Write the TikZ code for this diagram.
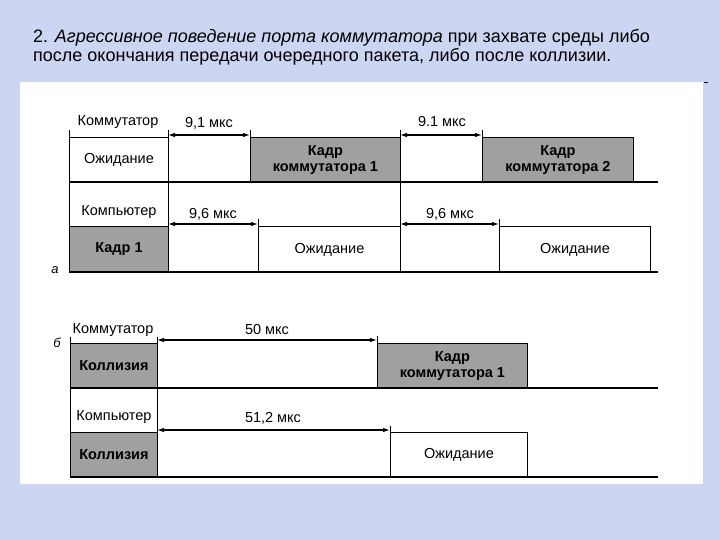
\documentclass[tikz,border=0pt]{standalone}
\usepackage{fontspec}
\setmainfont{Liberation Sans}
\usetikzlibrary{arrows.meta}
\definecolor{bgblue}{RGB}{204,214,242}
\definecolor{hatch}{RGB}{160,160,160}
\begin{document}
\begin{tikzpicture}[x=1pt,y=-1pt,
  ttl/.style={anchor=base west, inner sep=0pt, font=\fontsize{18}{21}\selectfont},
  lbl/.style={inner sep=0pt, font=\fontsize{14.5}{16}\selectfont},
  tbox/.style={draw=black, line width=0.9pt, anchor=north west, inner sep=0pt, align=center,
    font=\fontsize{14.5}{15.5}\selectfont},
  gbox/.style={tbox, fill=hatch, font=\fontsize{14.5}{15.5}\selectfont\bfseries},
  wbox/.style={tbox, fill=white},
  base/.style={line width=1.8pt},
  vline/.style={line width=0.9pt},
  dim/.style={line width=1.2pt, {Latex[length=7pt,width=4.5pt]}-{Latex[length=7pt,width=4.5pt]}},
  tag/.style={inner sep=0pt, font=\fontsize{13}{14}\selectfont\itshape}
]
\useasboundingbox (0,0) rectangle (720,540);
\fill[bgblue] (0,0) rectangle (720,540);
\fill[white] (20,82) rectangle (703,484);
\draw[line width=1pt] (704,83) -- (708,83);

% title
\node[ttl] (t1) at (33,43) {2. \textit{Агрессивное поведение порта коммутатора} при захвате среды либо};
\node[ttl] (t2) at (33,62) {после окончания передачи очередного пакета, либо после коллизии.};

% ---------- part a ----------
\node[wbox, minimum width=99pt, minimum height=45pt] (wA1) at (69,137) {Ожидание};
\node[gbox, minimum width=150pt, minimum height=45pt] (kA1) at (250,137) {Кадр\\коммутатора 1};
\node[gbox, minimum width=151pt, minimum height=45pt] (kA2) at (482,137) {Кадр\\коммутатора 2};
\node[gbox, minimum width=99pt, minimum height=46pt] (cA1) at (69,226) {Кадр 1};
\node[wbox, minimum width=142pt, minimum height=46pt] (wA2) at (258,226) {Ожидание};
\node[wbox, minimum width=151pt, minimum height=46pt] (wA3) at (499,226) {Ожидание};

\node[lbl] (swA) at (118,122) {Коммутатор};
\node[lbl] (pcA) at (119,212) {Компьютер};
\node[tag] (ta) at (55,270) {а};

\coordinate (aL1) at (69,130); \coordinate (aL2) at (69,272);
\coordinate (aM1) at (168,130); \coordinate (aM2) at (168,272);
\coordinate (aR1) at (400,130); \coordinate (aR2) at (400,272);
\coordinate (aB1) at (69,182); \coordinate (aB1e) at (658,182);
\coordinate (aB2) at (69,272); \coordinate (aB2e) at (658,272);
\draw[vline] (aL1) -- (aL2);
\draw[vline] (aM1) -- (aM2);
\draw[vline] (aR1) -- (aR2);
\draw[vline] (250,130) -- (kA1.north west);
\draw[vline] (482,130) -- (kA2.north west);
\draw[vline] (258,219) -- (wA2.north west);
\draw[vline] (499,219) -- (wA3.north west);
\draw[base] (aB1) -- (aB1e);
\draw[base] (aB2) -- (aB2e);

\coordinate (d1a) at (168,135); \coordinate (d1b) at (250,135);
\coordinate (d2a) at (400,135); \coordinate (d2b) at (482,135);
\coordinate (d3a) at (168,224); \coordinate (d3b) at (258,224);
\coordinate (d4a) at (400,224); \coordinate (d4b) at (499,224);
\draw[dim] (d1a) -- (d1b);
\draw[dim] (d2a) -- (d2b);
\draw[dim] (d3a) -- (d3b);
\draw[dim] (d4a) -- (d4b);
\node[lbl] (l1) at (209,123) {9,1 мкс};
\node[lbl] (l2) at (442,122) {9.1 мкс};
\node[lbl] (l3) at (213,214) {9,6 мкс};
\node[lbl] (l4) at (450,214) {9,6 мкс};

% ---------- part b ----------
\node[gbox, minimum width=87pt, minimum height=45pt] (kB0) at (70,343) {Коллизия};
\node[gbox, minimum width=150pt, minimum height=45pt] (kB1) at (377,343) {Кадр\\коммутатора 1};
\node[gbox, minimum width=87pt, minimum height=45pt] (cB0) at (70,432) {Коллизия};
\node[wbox, minimum width=137pt, minimum height=45pt] (wB1) at (390,432) {Ожидание};

\node[lbl] (swB) at (113,330) {Коммутатор};
\node[lbl] (pcB) at (114,417) {Компьютер};
\node[tag] (tb) at (57,343) {б};

\coordinate (bL1) at (70,337); \coordinate (bL2) at (70,477);
\coordinate (bM1) at (157,337); \coordinate (bM2) at (157,477);
\draw[vline] (bL1) -- (bL2);
\draw[vline] (bM1) -- (bM2);
\draw[vline] (377,336) -- (kB1.north west);
\draw[vline] (390,426) -- (wB1.north west);
\coordinate (bB1) at (70,388); \coordinate (bB1e) at (658,388);
\coordinate (bB2) at (70,477); \coordinate (bB2e) at (658,477);
\draw[base] (bB1) -- (bB1e);
\draw[base] (bB2) -- (bB2e);

\coordinate (d5a) at (157,340); \coordinate (d5b) at (377,340);
\coordinate (d6a) at (157,430); \coordinate (d6b) at (390,430);
\draw[dim] (d5a) -- (d5b);
\draw[dim] (d6a) -- (d6b);
\node[lbl] (l5) at (267,330) {50 мкс};
\node[lbl] (l6) at (273,418) {51,2 мкс};
\end{tikzpicture}
\end{document}
